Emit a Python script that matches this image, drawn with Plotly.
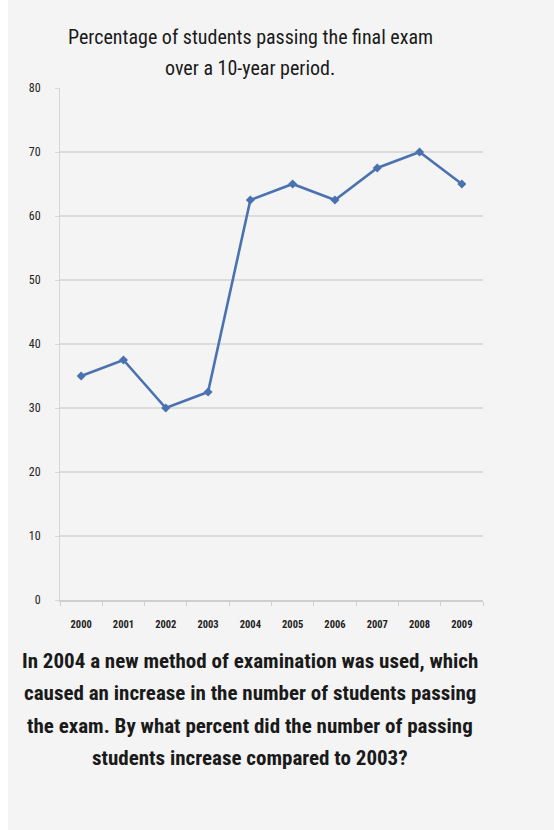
import plotly.graph_objects as go

years = ["2000", "2001", "2002", "2003", "2004", "2005", "2006", "2007", "2008", "2009"]
pass_pct = [35, 37.5, 30, 32.5, 62.5, 65, 62.5, 67.5, 70, 65]
y_ticks = [0, 10, 20, 30, 40, 50, 60, 70, 80]

W, H = 554, 830
L, R, T, B = 60, 71, 88, 230
pw, ph = W - L - R, H - T - B

def px(x):
    return (x - L) / pw

def py(y):
    return (H - B - y) / ph

NARROW = "Liberation Sans Narrow, Arial Narrow, Roboto Condensed, Roboto, sans-serif"

fig = go.Figure()
fig.add_trace(go.Scatter(
    x=years, y=pass_pct, mode="lines+markers",
    line=dict(color="#4a72b0", width=2.6),
    marker=dict(symbol="diamond", size=7, color="#4a72b0"),
    showlegend=False,
))

title_lines = ["Percentage of students passing the final exam", "over a 10-year period."]
title_y = [37, 68]
question_lines = [
    "In 2004 a new method of examination was used, which",
    "caused an increase in the number of students passing",
    "the exam. By what percent did the number of passing",
    "students increase compared to 2003?",
]
question_y = [661, 693, 726, 758]

ann = []
for t, y in zip(title_lines, title_y):
    ann.append(dict(text=t, x=px(250), y=py(y), xref="paper", yref="paper",
                    xanchor="center", yanchor="middle", showarrow=False,
                    font=dict(family=NARROW, size=20, color="#1a1a1a")))
for t, y in zip(question_lines, question_y):
    ann.append(dict(text="<b>" + t + "</b>", x=px(250), y=py(y), xref="paper", yref="paper",
                    xanchor="center", yanchor="middle", showarrow=False,
                    font=dict(family=NARROW, size=21, color="#1a1a1a")))

fig.update_layout(
    width=W, height=H,
    margin=dict(l=L, r=R, t=T, b=B),
    paper_bgcolor="#f4f4f4", plot_bgcolor="#f4f4f4",
    annotations=ann,
    shapes=[dict(type="rect", xref="paper", yref="paper", x0=px(0), x1=px(8), y0=py(830), y1=py(0),
                 fillcolor="white", line=dict(width=0), layer="below")],
    xaxis=dict(
        type="category", showgrid=False, showline=True, linecolor="#cfcfcf", linewidth=1.5,
        ticks="outside", ticklen=4, tickcolor="#cfcfcf", tickson="boundaries",
        tickfont=dict(family=NARROW, size=10.5, color="#222"), zeroline=False,
        range=[-0.5, 9.5], ticklabelstandoff=14,
    ),
    yaxis=dict(
        range=[0, 80], tickvals=y_ticks, showgrid=True, gridcolor="#dcdcdc", gridwidth=1.5,
        showline=True, linecolor="#d6d6d6", linewidth=1, zeroline=False,
        ticks="outside", ticklen=4, tickcolor="#d6d6d6",
        tickfont=dict(family=NARROW, size=12, color="#222"), ticklabelstandoff=12,
    ),
)
fig.update_xaxes(tickprefix="<b>", ticksuffix="</b>")
fig.update_yaxes(tickprefix="<b>", ticksuffix="</b>")

fig.write_html("out.html")
